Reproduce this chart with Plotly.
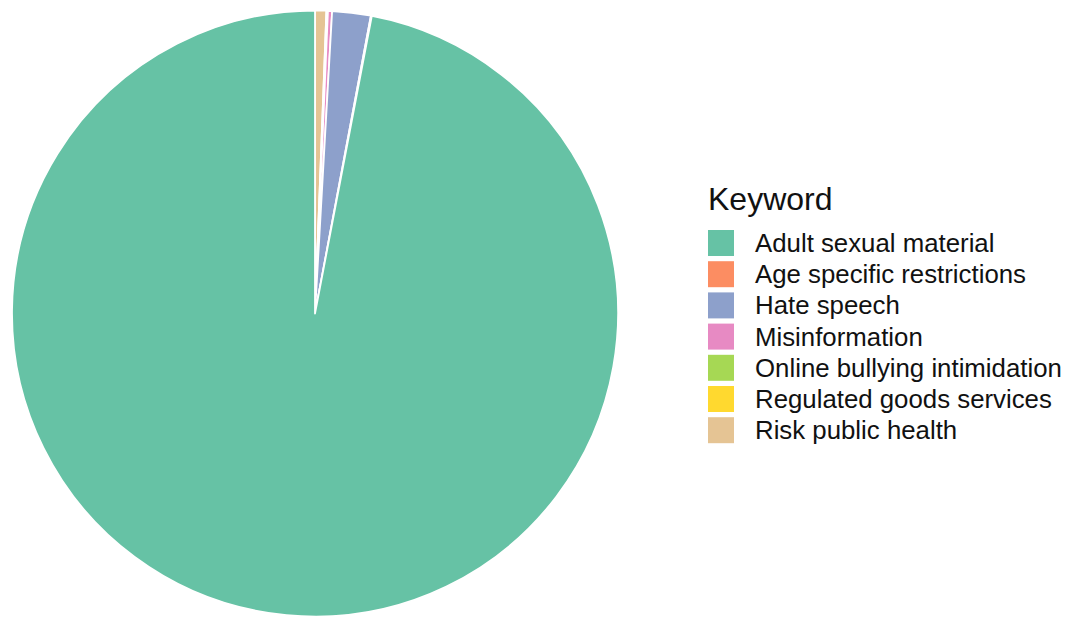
import plotly.graph_objects as go

# Share of flagged content by keyword (percent)
keywords = [
    "Adult sexual material",
    "Age specific restrictions",
    "Hate speech",
    "Misinformation",
    "Online bullying intimidation",
    "Regulated goods services",
    "Risk public health",
]
shares = [96.86, 0.05, 2.05, 0.22, 0.04, 0.04, 0.6]
colors = ["#66C2A5", "#FC8D62", "#8DA0CB", "#E78AC3", "#A6D854", "#FFD92F", "#E5C494"]

W, H = 1075, 619

# Slices are stacked from the last keyword at 12 o'clock, running clockwise
fig = go.Figure(
    go.Pie(
        labels=keywords[::-1],
        values=shares[::-1],
        sort=False,
        direction="clockwise",
        rotation=0,
        marker=dict(colors=colors[::-1], line=dict(color="white", width=1.8)),
        textinfo="none",
        hoverinfo="label+percent",
        showlegend=False,
        domain=dict(x=[12 / W, 618 / W], y=[1 - 617 / H, 1 - 10 / H]),
    )
)

# Legend drawn as keyed squares with labels
key_x0, key_size = 708, 26
text_x = 753
first_row, row_step = 243, 31.2

shapes = []
annotations = [
    dict(
        x=(key_x0 - 2) / W, y=1 - 199 / H, xref="paper", yref="paper",
        text="Keyword", showarrow=False, xanchor="left", yanchor="middle",
        font=dict(family="Liberation Sans, Arial, sans-serif", size=32, color="#111111"),
    )
]
for i, (name, col) in enumerate(zip(keywords, colors)):
    yc = first_row + i * row_step
    shapes.append(dict(
        type="rect", xref="paper", yref="paper",
        x0=key_x0 / W, x1=(key_x0 + key_size) / W,
        y0=1 - (yc + key_size / 2) / H, y1=1 - (yc - key_size / 2) / H,
        fillcolor=col, line=dict(width=0),
    ))
    annotations.append(dict(
        x=text_x / W, y=1 - yc / H, xref="paper", yref="paper",
        text=name, showarrow=False, xanchor="left", yanchor="middle",
        font=dict(family="Liberation Sans, Arial, sans-serif", size=25.8, color="#111111"),
    ))

fig.update_layout(
    width=W, height=H,
    margin=dict(l=0, r=0, t=0, b=0),
    paper_bgcolor="white",
    plot_bgcolor="white",
    shapes=shapes,
    annotations=annotations,
)

fig.write_html("out.html")
